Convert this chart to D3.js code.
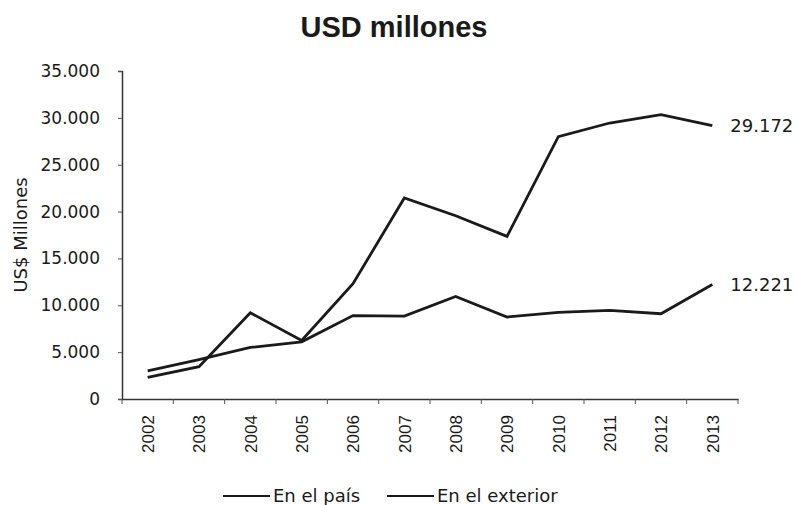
<!DOCTYPE html>
<html>
<head>
<meta charset="utf-8">
<script src="https://cdn.jsdelivr.net/npm/d3@7"></script>
<style>
  body { margin: 0; background: #fff; }
  svg { display: block; font-family: "DejaVu Sans", Verdana, sans-serif; }
</style>
</head>
<body>
<svg id="chart" width="797" height="505"></svg>
<script>
// ---- data ----
const years = ["2002", "2003", "2004", "2005", "2006", "2007", "2008", "2009", "2010", "2011", "2012", "2013"];
const enElPais = [2300, 3450, 9200, 6250, 12300, 21450, 19550, 17350, 28000, 29450, 30350, 29172];
const enElExterior = [3000, 4200, 5500, 6100, 8900, 8850, 10950, 8750, 9250, 9450, 9100, 12221];
const seriesNames = ["En el país", "En el exterior"];
const yTicks = [0, 5000, 10000, 15000, 20000, 25000, 30000, 35000];

const series = [
  { name: seriesNames[0], values: enElPais },
  { name: seriesNames[1], values: enElExterior }
];

// ---- layout ----
const svg = d3.select("#chart");
const m = { top: 71, right: 59, bottom: 106, left: 122 }; // margins
const W = 797, H = 505;
const w = W - m.left - m.right, h = H - m.top - m.bottom;

const fmt = v => d3.format(",")(v).replace(/,/g, "."); // spanish thousands separator

const x = d3.scaleBand().domain(years).range([0, w]).padding(0);
const y = d3.scaleLinear().domain([0, 35000]).range([h, 0]);

const g = svg.append("g").attr("transform", `translate(${m.left},${m.top})`);

// title
svg.append("text")
  .attr("x", 394).attr("y", 37)
  .attr("text-anchor", "middle")
  .attr("font-family", "'Liberation Sans', Arial, sans-serif")
  .attr("font-weight", "bold").attr("font-size", 29)
  .attr("fill", "#1a1a1a")
  .text("USD millones");

// y axis
const yAxis = g.append("g")
  .call(d3.axisLeft(y).tickValues(yTicks).tickFormat(fmt).tickSize(4).tickPadding(18));
yAxis.select(".domain").attr("stroke", "#333").attr("stroke-width", 1.5);
yAxis.selectAll(".tick line").attr("stroke", "#555");
yAxis.selectAll("text").attr("font-size", 17).attr("fill", "#1a1a1a").attr("font-family", "'DejaVu Sans', sans-serif");

// x axis: ticks between categories
const xAxis = g.append("g").attr("transform", `translate(0,${h})`)
  .call(d3.axisBottom(x).tickSize(0).tickPadding(8));
xAxis.select(".domain").attr("stroke", "#333").attr("stroke-width", 1.5);
xAxis.selectAll("text")
  .attr("font-size", 17).attr("fill", "#1a1a1a")
  .attr("transform", "rotate(-90)")
  .attr("text-anchor", "end")
  .attr("dx", "-0.95em").attr("dy", "-0.1em");
g.append("g").selectAll("line")
  .data(years.concat(["end"]))
  .join("line")
  .attr("x1", (d, i) => i * x.step()).attr("x2", (d, i) => i * x.step())
  .attr("y1", h).attr("y2", h + 5)
  .attr("stroke", "#555");

// lines
const line = d3.line()
  .x((d, i) => x(years[i]) + x.bandwidth() / 2)
  .y(d => y(d));

g.selectAll(".series")
  .data(series)
  .join("path")
  .attr("class", "series")
  .attr("fill", "none")
  .attr("stroke", "#1a1a1a")
  .attr("stroke-width", 2.8)
  .attr("stroke-linejoin", "miter")
  .attr("d", d => line(d.values));

// end labels
g.selectAll(".endlabel")
  .data(series)
  .join("text")
  .attr("class", "endlabel")
  .attr("x", x(years[years.length - 1]) + x.bandwidth() / 2 + 18)
  .attr("y", d => y(d.values[d.values.length - 1]))
  .attr("dy", "0.35em")
  .attr("font-size", 18).attr("fill", "#1a1a1a")
  .text(d => fmt(d.values[d.values.length - 1]));

// y axis title
svg.append("text")
  .attr("transform", "translate(27,235) rotate(-90)")
  .attr("text-anchor", "middle")
  .attr("font-size", 18).attr("fill", "#1a1a1a")
  .text("US$ Millones");

// legend
const legendX = [223, 387];
const legend = svg.append("g").attr("transform", "translate(0,496)");
const items = legend.selectAll("g")
  .data(series)
  .join("g")
  .attr("transform", (d, i) => `translate(${legendX[i]},0)`);
items.append("line")
  .attr("x1", 0).attr("x2", 47).attr("y1", 0).attr("y2", 0)
  .attr("stroke", "#1a1a1a").attr("stroke-width", 2);
items.append("text")
  .attr("x", 50).attr("y", 0).attr("dy", "0.35em")
  .attr("font-size", 18).attr("fill", "#1a1a1a")
  .text(d => d.name);
</script>
</body>
</html>
